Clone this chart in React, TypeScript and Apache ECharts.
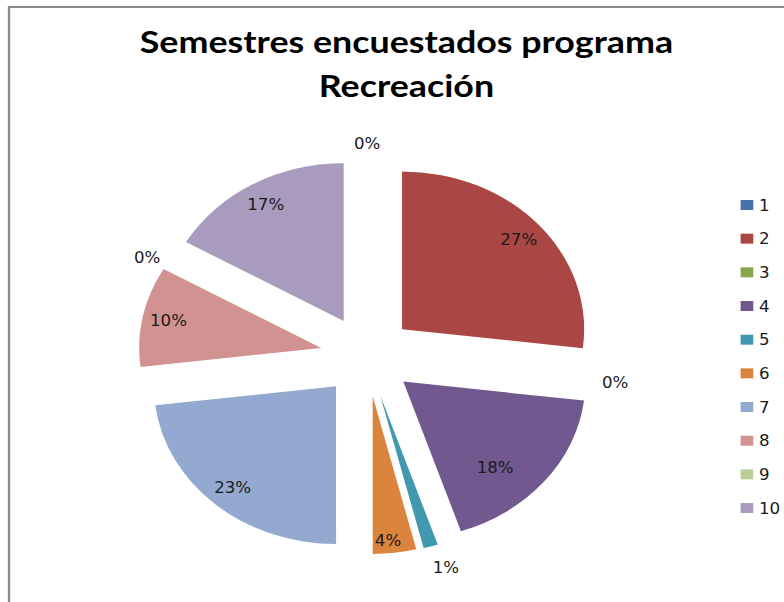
import React, { useEffect, useRef } from 'react';
import * as echarts from 'echarts';

// ---- data ----
const categories = ['1', '2', '3', '4', '5', '6', '7', '8', '9', '10'];
const counts = [0, 21, 0, 14, 1, 3, 18, 8, 0, 13];
const colors = ['#4572A7', '#AA4643', '#89A54E', '#71588F', '#4198AF', '#DB843D', '#93A9CF', '#D19392', '#B9CD96', '#A99BBD'];
const titleLines = ['Semestres encuestados programa', 'Recreación'];

// ---- layout (the source picture is stretched horizontally) ----
const SCREEN_W = 784;
const H = 602;
const W = 679;
const SX = SCREEN_W / W;

const total = counts.reduce((a, b) => a + b, 0);
const pct = (v: number) => Math.round((v / total) * 100);

const labelFont = "'DejaVu Sans Condensed', 'Liberation Sans', sans-serif";
const labelColor = '#1a1a1a';

const basePie = {
  type: 'pie',
  center: [317.9, 356],
  startAngle: 90,
  clockwise: true,
  selectedMode: 'multiple',
  selectedOffset: 40.5,
  avoidLabelOverlap: false,
  emphasis: { disabled: true },
  labelLine: { show: false },
};

const labelText = {
  fontSize: 16,
  fontFamily: labelFont,
  color: labelColor,
};

const option: any = {
  animation: false,
  backgroundColor: '#ffffff',
  title: {
    text: titleLines.join('\n'),
    left: 347,
    top: 14,
    textAlign: 'center',
    textStyle: {
      fontFamily: 'Lato, Roboto, sans-serif',
      fontWeight: 'bold',
      fontSize: 31,
      lineHeight: 44,
      color: '#000000',
    },
  },
  legend: {
    orient: 'vertical',
    left: 636.4,
    top: 192,
    itemWidth: 11,
    itemHeight: 10,
    itemGap: 17.67,
    icon: 'rect',
    selectedMode: false,
    data: categories,
    textStyle: { ...labelText, lineHeight: 16 },
  },
  graphic: [
    {
      type: 'rect',
      silent: true,
      shape: { x: 7.8, y: 7, width: 900, height: 800 },
      style: { fill: 'none', stroke: '#8a8a8a', lineWidth: 2 },
    },
  ],
  series: [
    {
      ...basePie,
      name: 'main',
      radius: 157.7,
      label: { show: false },
      data: categories.map((c, i) => ({
        name: c,
        value: counts[i],
        selected: true,
        itemStyle: { color: colors[i] },
      })),
    },
    {
      ...basePie,
      name: 'inner-labels',
      radius: [105, 159],
      silent: true,
      itemStyle: { color: 'rgba(0,0,0,0)' },
      label: {
        show: true,
        position: 'inside',
        formatter: (p: any) => Math.round(p.percent) + '%',
        ...labelText,
      },
      labelLayout: (p: any) =>
        p.dataIndex === 3 ? { dx: -25, dy: 0 } : p.dataIndex === 5 ? { dx: -3, dy: 10 } : {},
      data: categories.map((c, i) => ({
        name: c,
        value: counts[i],
        selected: true,
        label: { show: pct(counts[i]) >= 3 },
      })),
    },
    {
      ...basePie,
      name: 'outer-labels',
      radius: [160, 186],
      silent: true,
      itemStyle: { color: 'rgba(0,0,0,0)' },
      label: {
        show: true,
        position: 'inside',
        formatter: (p: any) => Math.round(p.percent) + '%',
        ...labelText,
      },
      labelLayout: (p: any) =>
        p.dataIndex === 8 ? { dx: -3, dy: 10 } : p.dataIndex === 4 ? { dx: 8, dy: 3 } : p.dataIndex === 0 ? { dx: 0, dy: 4 } : {},
      data: categories.map((c, i) => ({
        name: c,
        value: counts[i],
        selected: true,
        label: { show: pct(counts[i]) < 3 },
      })),
    },
  ],
};

export default function App() {
  const ref = useRef<HTMLDivElement>(null);
  useEffect(() => {
    if (!ref.current) return;
    const chart = echarts.init(ref.current, null, { renderer: 'svg' });
    chart.setOption(option);
    return () => chart.dispose();
  }, []);
  return (
    <div
      ref={ref}
      style={{
        position: 'absolute',
        left: 0,
        top: 0,
        width: W,
        height: H,
        transform: `scaleX(${SX})`,
        transformOrigin: '0 0',
        background: '#ffffff',
      }}
    />
  );
}
